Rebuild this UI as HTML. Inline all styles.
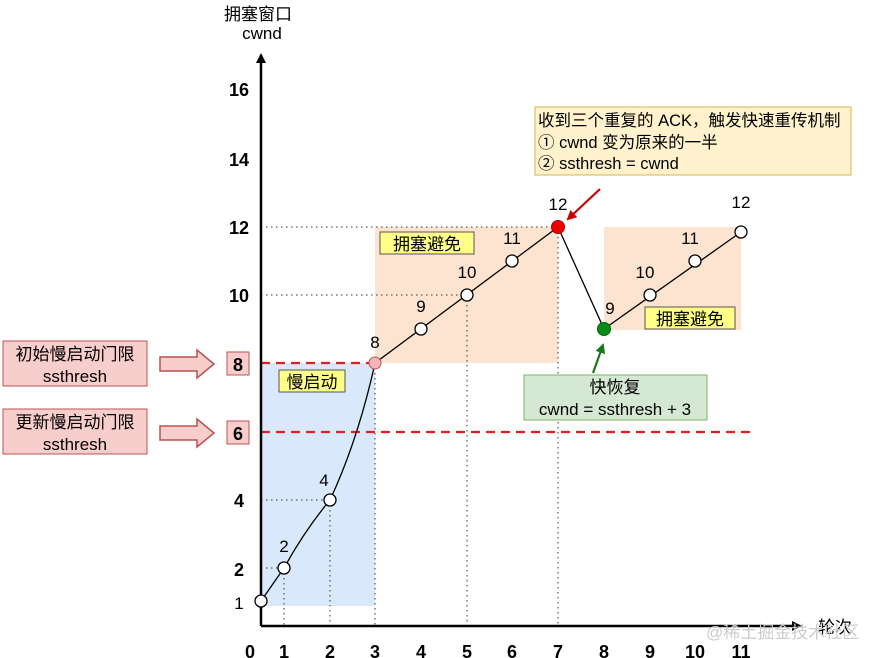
<!DOCTYPE html>
<html><head><meta charset="utf-8"><style>
html,body{margin:0;padding:0;background:#fff;}
svg{display:block;}
text{font-family:"Liberation Sans","Noto Sans CJK SC",sans-serif;}
</style></head><body>
<svg width="887" height="658" viewBox="0 0 887 658" xmlns="http://www.w3.org/2000/svg">
<defs>
<marker id="ah" markerWidth="10" markerHeight="10" refX="8" refY="5" orient="auto" markerUnits="userSpaceOnUse"><path d="M0,0 L10,5 L0,10 Z" fill="#000"/></marker>
<marker id="ar" markerWidth="10" markerHeight="10" refX="8" refY="5" orient="auto" markerUnits="userSpaceOnUse"><path d="M0,0 L10,5 L0,10 Z" fill="#c00"/></marker>
<marker id="ag" markerWidth="10" markerHeight="10" refX="8" refY="5" orient="auto" markerUnits="userSpaceOnUse"><path d="M0,0 L10,5 L0,10 Z" fill="#1a7a1a"/></marker>
</defs>
<rect x="261" y="363" width="114" height="243" fill="#dae8fc"/>
<rect x="375" y="227" width="183" height="136" fill="#fde4d0"/>
<rect x="604" y="227" width="137" height="103" fill="#fde4d0"/>
<g stroke="#333" stroke-width="1" stroke-dasharray="1.5,3.5" fill="none">
<line x1="261" y1="227" x2="558" y2="227"/>
<line x1="261" y1="295" x2="467" y2="295"/>
<line x1="261" y1="500" x2="330" y2="500"/>
<line x1="261" y1="568" x2="284" y2="568"/>
<line x1="284" y1="568" x2="284" y2="626"/>
<line x1="330" y1="500" x2="330" y2="626"/>
<line x1="375" y1="363" x2="375" y2="626"/>
<line x1="467" y1="295" x2="467" y2="626"/>
<line x1="558" y1="227" x2="558" y2="626"/>
</g>
<g stroke="#e02020" stroke-width="2.2" stroke-dasharray="9,6">
<line x1="261" y1="363" x2="375" y2="363"/>
<line x1="261" y1="432" x2="752" y2="432"/>
</g>
<line x1="261" y1="626" x2="261" y2="55" stroke="#000" stroke-width="2.5" marker-end="url(#ah)"/>
<line x1="261" y1="626" x2="800" y2="626" stroke="#000" stroke-width="2.5" marker-end="url(#ah)"/>
<text x="258" y="20" font-size="17" text-anchor="middle">拥塞窗口</text>
<text x="262" y="39" font-size="17" text-anchor="middle">cwnd</text>
<text x="818" y="633" font-size="17">轮次</text>
<text x="706" y="638" font-size="17" fill="#ccc">@稀土掘金技术社区</text>
<g font-size="18" font-weight="bold" text-anchor="middle">
<text x="239" y="96">16</text><text x="239" y="166">14</text><text x="239" y="234">12</text>
<text x="239" y="302">10</text><text x="239" y="507">4</text><text x="239" y="576">2</text>
</g>
<text x="239" y="609" font-size="17" text-anchor="middle">1</text>
<rect x="227" y="352" width="22" height="23" fill="#f8cecc" stroke="#b85450"/>
<text x="238" y="371" font-size="18" font-weight="bold" text-anchor="middle">8</text>
<rect x="227" y="421" width="22" height="23" fill="#f8cecc" stroke="#b85450"/>
<text x="238" y="440" font-size="18" font-weight="bold" text-anchor="middle">6</text>
<g font-size="18" font-weight="bold" text-anchor="middle">
<text x="250" y="658">0</text><text x="284" y="658">1</text><text x="330" y="658">2</text><text x="375" y="658">3</text>
<text x="421" y="658">4</text><text x="467" y="658">5</text><text x="512" y="658">6</text><text x="558" y="658">7</text>
<text x="604" y="658">8</text><text x="650" y="658">9</text><text x="695" y="658">10</text><text x="741" y="658">11</text>
</g>
<rect x="3" y="341" width="144" height="45" fill="#f8cecc" stroke="#b85450"/>
<text x="75" y="360" font-size="17" text-anchor="middle">初始慢启动门限</text>
<text x="75" y="382" font-size="17" text-anchor="middle">ssthresh</text>
<rect x="3" y="409" width="144" height="45" fill="#f8cecc" stroke="#b85450"/>
<text x="75" y="428" font-size="17" text-anchor="middle">更新慢启动门限</text>
<text x="75" y="450" font-size="17" text-anchor="middle">ssthresh</text>
<path d="M160,357 H197 V350 L214,364 L197,378 V371 H160 Z" fill="#f8cecc" stroke="#b85450" stroke-width="1.5"/>
<path d="M160,426 H197 V419 L214,433 L197,447 V440 H160 Z" fill="#f8cecc" stroke="#b85450" stroke-width="1.5"/>
<path d="M261,601 L284,568 Q305,530 330,500 Q358,440 375,363 L558,227 L604,329 L741,232" fill="none" stroke="#000" stroke-width="1.3"/>
<g fill="#fff" stroke="#000" stroke-width="1.3">
<circle cx="261" cy="601" r="6"/><circle cx="284" cy="568" r="6"/><circle cx="330" cy="500" r="6"/>
<circle cx="421" cy="329" r="6"/><circle cx="467" cy="295" r="6"/><circle cx="512" cy="261" r="6"/>
<circle cx="650" cy="295" r="6"/><circle cx="695" cy="261" r="6"/><circle cx="741" cy="232" r="6"/>
</g>
<circle cx="375" cy="363" r="6" fill="#f4b6b6" stroke="#b85450"/>
<circle cx="558" cy="227" r="6.5" fill="#e00" stroke="#a00"/>
<circle cx="604" cy="329" r="6.5" fill="#0a8a1a" stroke="#060"/>
<g font-size="17" text-anchor="middle">
<text x="284" y="552">2</text><text x="324" y="486">4</text><text x="375" y="348">8</text>
<text x="421" y="312">9</text><text x="467" y="278">10</text><text x="512" y="244">11</text>
<text x="558" y="210">12</text><text x="610" y="314">9</text><text x="645" y="278">10</text>
<text x="690" y="244">11</text><text x="741" y="208">12</text>
</g>
<rect x="279" y="370" width="66" height="22" fill="#ffff88" stroke="#555"/>
<text x="312" y="388" font-size="17" text-anchor="middle">慢启动</text>
<rect x="380" y="232" width="94" height="22" fill="#ffff88" stroke="#555"/>
<text x="427" y="250" font-size="17" text-anchor="middle">拥塞避免</text>
<rect x="645" y="307" width="90" height="22" fill="#ffff88" stroke="#555"/>
<text x="690" y="325" font-size="17" text-anchor="middle">拥塞避免</text>
<rect x="535" y="107" width="316" height="68" fill="#fff2cc" stroke="#d6b656"/>
<text x="538" y="126" font-size="16.5">收到三个重复的 ACK，触发快速重传机制</text>
<text x="538" y="148" font-size="16.5">① cwnd 变为原来的一半</text>
<text x="538" y="169" font-size="16.5">② ssthresh = cwnd</text>
<line x1="600" y1="189" x2="568" y2="219" stroke="#c00" stroke-width="2.2" marker-end="url(#ar)"/>
<rect x="524" y="375" width="183" height="45" fill="#d5e8d4" stroke="#82b366"/>
<text x="615" y="393" font-size="17" text-anchor="middle">快恢复</text>
<text x="615" y="415" font-size="17" text-anchor="middle">cwnd = ssthresh + 3</text>
<line x1="593" y1="373" x2="603" y2="345" stroke="#1a7a1a" stroke-width="2.2" marker-end="url(#ag)"/>
</svg>
</body></html>
